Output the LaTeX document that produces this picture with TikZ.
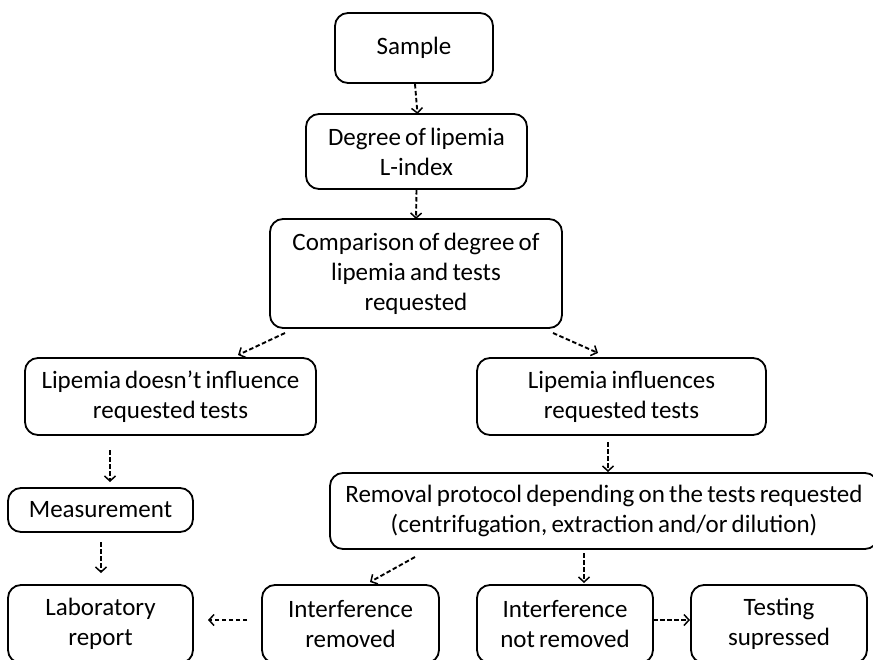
\documentclass[tikz,border=0pt]{standalone}
\usepackage{fontspec}
\setmainfont{Carlito}
\usetikzlibrary{arrows.meta}
\newcommand\myboxfont{\fontsize{25}{30}\selectfont\spaceskip=0.17em plus 0.05em minus 0.05em\relax}
\begin{document}
\begin{tikzpicture}[x=1pt,y=-1pt,
  box/.style={draw=black, line width=1.8pt, rounded corners=13pt, align=center,
    inner sep=0pt, outer sep=0pt, font=\myboxfont},
  arr/.style={draw=black, line width=1.9pt, dash pattern=on 4.5pt off 2.5pt,
    -{Straight Barb[length=5pt,width=11pt,line width=1.5pt]}}]
\useasboundingbox (0,0) rectangle (873,659);
\fill[white] (0,0) rectangle (873,659);
\clip (0,0) rectangle (873,659);

\node[box, minimum width=158pt, minimum height=70pt] (sample) at (414,48) {Sample};
\node[box, minimum width=221pt, minimum height=75pt] (degree) at (416.5,151.5) {Degree of lipemia\\L-index};
\node[box, minimum width=292pt, minimum height=109pt] (comp) at (416,273.5) {Comparison of degree of\\lipemia and tests\\requested};
\node[box, minimum width=291pt, minimum height=77pt] (noinf) at (170.5,396.5) {Lipemia doesn't influence\\requested tests};
\node[box, minimum width=289pt, minimum height=77pt] (inf) at (621.5,396.5) {Lipemia influences\\requested tests};
\node[box, minimum width=185pt, minimum height=44pt] (meas) at (100.5,510) {Measurement};
\node[box, minimum width=548pt, minimum height=76pt] (removal) at (604,511) {Removal protocol depending on the tests requested\\(centrifugation, extraction and/or dilution)};
\node[box, minimum width=185pt, minimum height=78pt] (lab) at (100.5,624) {Laboratory\\report};
\node[box, minimum width=177pt, minimum height=78pt] (intrem) at (350.5,624) {Interference\\removed};
\node[box, minimum width=176pt, minimum height=78pt] (notrem) at (565,624) {Interference\\not removed};
\node[box, minimum width=176pt, minimum height=78pt] (test) at (779,624) {Testing\\supressed};

\draw[arr] ([xshift=1pt,yshift=-1pt]sample.south) -- ([xshift=1pt]degree.north);
\draw[arr] ([yshift=-1pt]degree.south) -- (comp.north);
\draw[arr] ([xshift=15pt,yshift=-5pt]comp.south west) -- ([xshift=67.5pt,yshift=3pt]noinf.north);
\draw[arr] ([xshift=-9pt,yshift=-5pt]comp.south east) -- ([xshift=-23.5pt,yshift=5pt]inf.north);
\draw[arr] ([xshift=-60.5pt,yshift=-15pt]noinf.south) -- ([xshift=9.5pt,yshift=6pt]meas.north);
\draw[arr] ([xshift=0.5pt,yshift=-10pt]meas.south) -- ([xshift=0.5pt,yshift=12pt]lab.north);
\draw[arr] ([xshift=-13.5pt,yshift=-7pt]inf.south) -- ([xshift=4pt,yshift=1pt]removal.north);
\draw[arr] ([xshift=85pt,yshift=-8pt]removal.south west) -- ([xshift=19.5pt,yshift=3pt]intrem.north);
\draw[arr] ([xshift=-20pt,yshift=-4pt]removal.south) -- ([xshift=19pt,yshift=2pt]notrem.north);
\draw[arr] ([xshift=-15pt,yshift=4pt]intrem.west) -- ([xshift=15pt,yshift=4pt]lab.east);
\draw[arr] ([yshift=4pt]notrem.east) -- ([xshift=-1pt,yshift=4pt]test.west);
\end{tikzpicture}
\end{document}
